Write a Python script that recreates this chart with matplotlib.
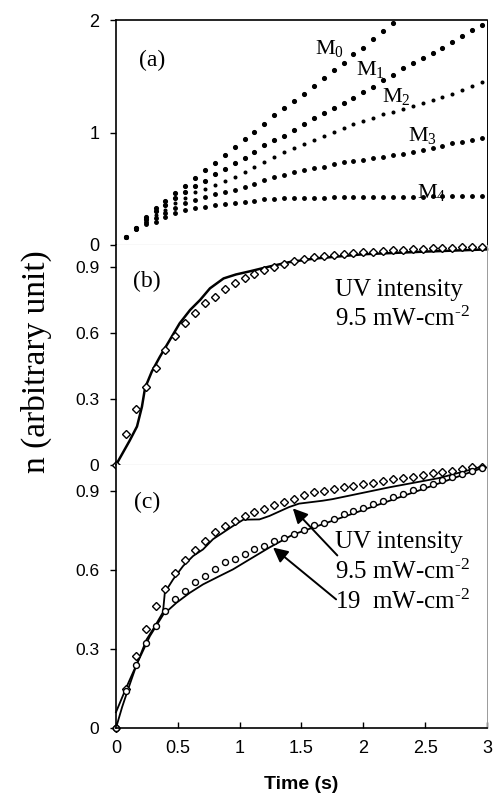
import matplotlib.pyplot as plt

plt.rcParams['mathtext.fontset'] = 'custom'
plt.rcParams['mathtext.rm'] = 'Liberation Serif'
plt.rcParams['mathtext.it'] = 'Liberation Serif:italic'

SERIF = 'Liberation Serif'
SANS = 'Liberation Sans'

# sampling times (s) for the moment curves and measured points
t_samples = [0.00, 0.08, 0.16, 0.24, 0.32, 0.40, 0.48, 0.56, 0.64, 0.72,
             0.80, 0.88, 0.96, 1.04, 1.12, 1.20, 1.28, 1.36, 1.44, 1.52,
             1.60, 1.68, 1.76, 1.84, 1.92, 2.00, 2.08, 2.16, 2.24, 2.32,
             2.40, 2.48, 2.56, 2.64, 2.72, 2.80, 2.88, 2.96]

# (a) moments M0..M4, starting at t = 0.08
m0 = [0.074, 0.155, 0.25, 0.326, 0.394, 0.459, 0.524, 0.593, 0.667, 0.732,
      0.80, 0.874, 0.939, 1.007, 1.078, 1.156, 1.215, 1.28, 1.339, 1.416,
      1.481, 1.556, 1.62, 1.695, 1.754, 1.831, 1.902, 1.97]
m1 = [0.074, 0.152, 0.235, 0.30, 0.355, 0.42, 0.467, 0.524, 0.572, 0.631,
      0.68, 0.726, 0.776, 0.83, 0.885, 0.933, 0.972, 1.022, 1.073, 1.126,
      1.17, 1.215, 1.259, 1.304, 1.363, 1.407, 1.467, 1.511, 1.57, 1.615,
      1.659, 1.704, 1.754, 1.807, 1.861, 1.911, 1.956]
m2 = [0.074, 0.148, 0.22, 0.27, 0.315, 0.37, 0.42, 0.474, 0.50, 0.533,
      0.572, 0.607, 0.652, 0.69, 0.738, 0.785, 0.824, 0.859, 0.895, 0.933,
      0.972, 1.007, 1.037, 1.073, 1.102, 1.132, 1.161, 1.185, 1.209, 1.239,
      1.259, 1.289, 1.319, 1.342, 1.378, 1.416, 1.452]
m3 = [0.074, 0.145, 0.205, 0.24, 0.28, 0.33, 0.37, 0.40, 0.424, 0.45,
      0.474, 0.489, 0.513, 0.542, 0.575, 0.607, 0.622, 0.646, 0.667, 0.681,
      0.696, 0.717, 0.735, 0.747, 0.756, 0.776, 0.785, 0.80, 0.812, 0.83,
      0.844, 0.859, 0.883, 0.904, 0.919, 0.93, 0.948]
m4 = [0.074, 0.14, 0.19, 0.207, 0.246, 0.281, 0.31, 0.326, 0.341, 0.356,
      0.364, 0.37, 0.379, 0.391, 0.405, 0.412, 0.415, 0.418, 0.42, 0.42,
      0.422, 0.424, 0.425, 0.425, 0.426, 0.427, 0.428, 0.428, 0.43, 0.43,
      0.431, 0.432, 0.433, 0.433, 0.434, 0.435, 0.436]
moment_labels = ['M$_0$', 'M$_1$', 'M$_2$', 'M$_3$', 'M$_4$']
moment_label_pos = [(1.73, 1.75), (2.06, 1.56), (2.27, 1.32), (2.48, 0.97), (2.55, 0.47)]

# (b) 9.5 mW/cm2: measured points and model curve
meas_b = [0, 0.139, 0.255, 0.356, 0.442, 0.523, 0.586, 0.644, 0.692, 0.735,
          0.765, 0.798, 0.826, 0.848, 0.868, 0.886, 0.902, 0.914, 0.929, 0.937,
          0.944, 0.950, 0.955, 0.960, 0.963, 0.967, 0.970, 0.973, 0.976, 0.979,
          0.981, 0.983, 0.985, 0.987, 0.988, 0.990, 0.991, 0.993]
model_b_t = [0, 0.05, 0.11, 0.17, 0.21, 0.235, 0.29, 0.355, 0.435, 0.515, 0.6,
             0.68, 0.76, 0.87, 0.97, 1.08, 1.24, 1.40, 1.6, 2.0, 2.5, 3.0]
model_b = [0, 0.05, 0.11, 0.175, 0.265, 0.35, 0.425, 0.492, 0.568, 0.644, 0.705,
           0.75, 0.803, 0.848, 0.866, 0.88, 0.902, 0.922, 0.938, 0.958, 0.97, 0.98]

# (c) 9.5 and 19 mW/cm2
meas_c_low = [0, 0.15, 0.275, 0.378, 0.462, 0.53, 0.59, 0.637, 0.677, 0.711,
              0.744, 0.767, 0.787, 0.807, 0.821, 0.834, 0.846, 0.859, 0.872, 0.887,
              0.896, 0.902, 0.908, 0.915, 0.921, 0.927, 0.933, 0.94, 0.945, 0.95,
              0.955, 0.962, 0.968, 0.972, 0.978, 0.985, 0.991, 0.994]
meas_c_high = [0, 0.14, 0.24, 0.324, 0.386, 0.443, 0.489, 0.519, 0.555, 0.578,
               0.603, 0.63, 0.641, 0.66, 0.679, 0.691, 0.71, 0.723, 0.739, 0.752,
               0.772, 0.781, 0.794, 0.813, 0.826, 0.838, 0.851, 0.864, 0.877, 0.89,
               0.903, 0.915, 0.928, 0.941, 0.954, 0.964, 0.977, 0.989]
model_c_low_t = [0, 0.05, 0.1, 0.17, 0.247, 0.315, 0.38, 0.395, 0.462, 0.543,
                 0.624, 0.704, 0.785, 0.866, 0.946, 1.03, 1.16, 1.24, 1.40, 1.48,
                 1.67, 1.75, 2.21, 2.61, 2.97]
model_c_low = [0, 0.08, 0.15, 0.245, 0.336, 0.387, 0.44, 0.515, 0.565, 0.616,
               0.654, 0.679, 0.718, 0.743, 0.768, 0.792, 0.793, 0.806, 0.84, 0.853,
               0.864, 0.87, 0.915, 0.95, 0.995]
model_c_high_t = [0, 0.08, 0.17, 0.274, 0.382, 0.489, 0.597, 0.704, 0.839, 0.946,
                  1.08, 1.24, 1.43, 1.94, 2.48, 2.97]
model_c_high = [0.06, 0.15, 0.245, 0.349, 0.431, 0.476, 0.514, 0.546, 0.578, 0.603,
                0.641, 0.686, 0.735, 0.819, 0.908, 0.99]

UNIT = r' mW-cm$^{\text{-2}}$'

fig = plt.figure(figsize=(4.95, 7.97), dpi=100)
left, width = 0.2343, 0.7495
ax_a = fig.add_axes([left, 0.6926, width, 0.2823])
ax_b = fig.add_axes([left, 0.4166, width, 0.2760])
ax_c = fig.add_axes([left, 0.0866, width, 0.3300])

for ax in (ax_a, ax_b, ax_c):
    ax.set_xlim(0, 3)
    ax.spines['left'].set_linewidth(1.2)
    ax.spines['right'].set_color('#9a9a9a')
    ax.spines['right'].set_linewidth(0.7)
    ax.spines['right'].set_linestyle((0, (2, 1)))
    ax.spines['top'].set_visible(False)
    ax.tick_params(axis='y', direction='out', length=4, width=1, pad=8,
                   labelsize=12.5)

# panel a frame
ax_a.spines['top'].set_visible(True)
ax_a.spines['top'].set_linewidth(1.2)
ax_a.spines['right'].set_color('black')
ax_a.spines['right'].set_linestyle('-')
for ax in (ax_a, ax_b):
    ax.spines['bottom'].set_color('#8a8a8a')
    ax.spines['bottom'].set_linewidth(0.8)
    ax.spines['bottom'].set_linestyle((0, (2, 1)))
    ax.tick_params(axis='x', bottom=False, labelbottom=False)

# (a) moments
ax_a.set_ylim(0, 2)
ax_a.set_yticks([0, 1, 2])
ax_a.set_yticklabels(['0', '1', '2'], fontfamily=SANS, fontsize=13)
sizes = [2.7, 2.7, 1.9, 2.5, 2.5]
for vals, ms in zip([m0, m1, m2, m3, m4], sizes):
    ax_a.plot(t_samples[1:len(vals) + 1], vals, 'o', color='black',
              markersize=ms, clip_on=False)
for lab, (x, y) in zip(moment_labels, moment_label_pos):
    ax_a.text(x, y, lab, family=SERIF, fontsize=16, ha='center', va='center')
ax_a.text(0.29, 1.644, '(a)', family=SERIF, fontsize=17, ha='center', va='center')

# (b)
ax_b.set_ylim(0, 1.0)
ax_b.set_yticks([0, 0.3, 0.6, 0.9])
ax_b.set_yticklabels(['0', '0.3', '0.6', '0.9'], fontfamily=SANS, fontsize=12.5)
ax_b.plot(model_b_t, model_b, color='black', lw=1.8, clip_on=False)
ax_b.plot(t_samples, meas_b, 'D', markersize=4.3, markerfacecolor='white',
          markeredgecolor='black', markeredgewidth=1.0, clip_on=False)
ax_b.text(0.25, 0.832, '(b)', family=SERIF, fontsize=17, ha='center', va='center')
ax_b.text(1.77, 0.795, 'UV intensity', family=SERIF, fontsize=18, va='center')
ax_b.text(1.77, 0.665, '9.5' + UNIT, family=SERIF, fontsize=18, va='center')

# (c)
ax_c.set_ylim(0, 1.0)
ax_c.set_yticks([0, 0.3, 0.6, 0.9])
ax_c.set_yticklabels(['0', '0.3', '0.6', '0.9'], fontfamily=SANS, fontsize=12.5)
ax_c.spines['bottom'].set_linewidth(1.2)
ax_c.set_xticks([0, 0.5, 1, 1.5, 2, 2.5, 3])
ax_c.set_xticklabels(['0', '0.5', '1', '1.5', '2', '2.5', '3'],
                     fontfamily=SANS, fontsize=13)
ax_c.tick_params(axis='x', direction='in', length=4, width=1, pad=9)
ax_c.plot(model_c_low_t, model_c_low, color='black', lw=1.3, clip_on=False)
ax_c.plot(model_c_high_t, model_c_high, color='black', lw=1.3, clip_on=False)
ax_c.plot(t_samples, meas_c_low, 'D', markersize=3.6, markerfacecolor='white',
          markeredgecolor='black', markeredgewidth=1.0, clip_on=False)
ax_c.plot(t_samples, meas_c_high, 'o', markersize=4.3, markerfacecolor='white',
          markeredgecolor='black', markeredgewidth=1.0, clip_on=False)
ax_c.text(0.25, 0.859, '(c)', family=SERIF, fontsize=17, ha='center', va='center')
ax_c.text(1.77, 0.706, 'UV intensity', family=SERIF, fontsize=18, va='center')
ax_c.text(1.77, 0.592, '9.5' + UNIT, family=SERIF, fontsize=18, va='center')
ax_c.text(1.77, 0.478, '19 ' + UNIT, family=SERIF, fontsize=18, va='center')
arrow = dict(arrowstyle='-|>', color='black', lw=1.4, mutation_scale=22,
             shrinkA=0, shrinkB=0)
ax_c.annotate('', xy=(1.43, 0.835), xytext=(1.79, 0.656), arrowprops=arrow)
ax_c.annotate('', xy=(1.27, 0.686), xytext=(1.78, 0.489), arrowprops=arrow)
ax_c.set_xlabel('Time (s)', family=SANS, fontweight='bold', fontsize=14, labelpad=13)

fig.text(0.073, 0.546, 'n (arbitrary unit)', family=SERIF, fontsize=24,
         rotation=90, ha='center', va='center')

fig.savefig('out.png', dpi=100)
